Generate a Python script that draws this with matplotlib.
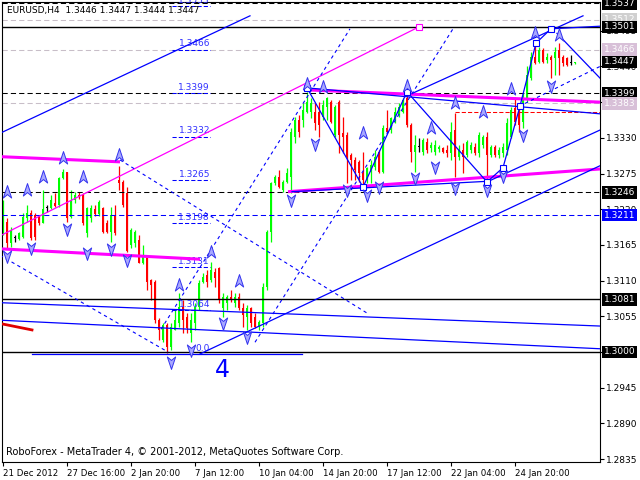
import numpy as np
import matplotlib.pyplot as plt
from matplotlib.path import Path

# EURUSD H4 candles
opens = [1.3193, 1.3200, 1.3168, 1.3176, 1.3174, 1.3177, 1.3206, 1.3214, 1.3211, 1.3210,
         1.3199, 1.3222, 1.3222, 1.3229, 1.3226, 1.3268, 1.3277, 1.3208, 1.3234, 1.3242,
         1.3242, 1.3183, 1.3206, 1.3220, 1.3213, 1.3222, 1.3199, 1.3185, 1.3211, 1.3265,
         1.3262, 1.3245, 1.3165, 1.3168, 1.3173, 1.3137, 1.3146, 1.3111, 1.3108, 1.3049,
         1.3018, 1.3042, 1.3008, 1.3034, 1.3045, 1.3069, 1.3054, 1.3029, 1.3045, 1.3069,
         1.3108, 1.3119, 1.3111, 1.3123, 1.3130, 1.3068, 1.3075, 1.3085, 1.3075, 1.3085,
         1.3068, 1.3054, 1.3068, 1.3054, 1.3038, 1.3045, 1.3100, 1.3185, 1.3260, 1.3270,
         1.3250, 1.3262, 1.3270, 1.3331, 1.3358, 1.3358, 1.3370, 1.3370, 1.3370, 1.3370,
         1.3362, 1.3378, 1.3385, 1.3334, 1.3385, 1.3338, 1.3334, 1.3304, 1.3296, 1.3293,
         1.3276, 1.3265, 1.3277, 1.3285, 1.3308, 1.3277, 1.3345, 1.3342, 1.3358, 1.3365,
         1.3370, 1.3391, 1.3350, 1.3308, 1.3316, 1.3308, 1.3324, 1.3314, 1.3308, 1.3313,
         1.3314, 1.3311, 1.3307, 1.3342, 1.3301, 1.3311, 1.3304, 1.3311, 1.3316, 1.3307,
         1.3319, 1.3331, 1.3304, 1.3316, 1.3304, 1.3307, 1.3311, 1.3331, 1.3376, 1.3370,
         1.3354, 1.3388, 1.3422, 1.3455, 1.3447, 1.3465, 1.3450, 1.3455, 1.3453, 1.3465,
         1.3455, 1.3453, 1.3445, 1.3446]
highs = [1.3234, 1.3206, 1.3193, 1.3180, 1.3185, 1.3214, 1.3226, 1.3219, 1.3214, 1.3211,
         1.3250, 1.3226, 1.3242, 1.3245, 1.3270, 1.3282, 1.3277, 1.3250, 1.3247, 1.3247,
         1.3245, 1.3223, 1.3226, 1.3226, 1.3234, 1.3223, 1.3203, 1.3223, 1.3226, 1.3287,
         1.3265, 1.3254, 1.3191, 1.3188, 1.3180, 1.3165, 1.3148, 1.3113, 1.3111, 1.3052,
         1.3045, 1.3045, 1.3045, 1.3065, 1.3091, 1.3080, 1.3060, 1.3060, 1.3075, 1.3111,
         1.3122, 1.3126, 1.3139, 1.3130, 1.3131, 1.3091, 1.3088, 1.3096, 1.3091, 1.3091,
         1.3075, 1.3072, 1.3069, 1.3060, 1.3049, 1.3106, 1.3188, 1.3262, 1.3273, 1.3281,
         1.3265, 1.3284, 1.3345, 1.3362, 1.3365, 1.3384, 1.3401, 1.3391, 1.3384, 1.3385,
         1.3388, 1.3393, 1.3388, 1.3381, 1.3388, 1.3362, 1.3339, 1.3307, 1.3301, 1.3296,
         1.3308, 1.3285, 1.3296, 1.3311, 1.3311, 1.3350, 1.3373, 1.3362, 1.3378, 1.3384,
         1.3391, 1.3399, 1.3353, 1.3334, 1.3330, 1.3330, 1.3330, 1.3324, 1.3327, 1.3319,
         1.3316, 1.3319, 1.3354, 1.3368, 1.3319, 1.3322, 1.3327, 1.3324, 1.3322, 1.3339,
         1.3334, 1.3339, 1.3319, 1.3319, 1.3316, 1.3322, 1.3361, 1.3378, 1.3393, 1.3376,
         1.3399, 1.3440, 1.3462, 1.3478, 1.3470, 1.3468, 1.3460, 1.3458, 1.3470, 1.3476,
         1.3458, 1.3455, 1.3458, 1.3447]
lows = [1.3180, 1.3160, 1.3162, 1.3170, 1.3173, 1.3176, 1.3200, 1.3173, 1.3173, 1.3196,
        1.3199, 1.3216, 1.3220, 1.3223, 1.3223, 1.3267, 1.3200, 1.3206, 1.3229, 1.3236,
        1.3196, 1.3177, 1.3200, 1.3210, 1.3210, 1.3183, 1.3183, 1.3170, 1.3180, 1.3250,
        1.3223, 1.3154, 1.3160, 1.3162, 1.3137, 1.3135, 1.3096, 1.3080, 1.3045, 1.3018,
        1.3015, 1.2999, 1.3003, 1.3034, 1.3038, 1.3029, 1.3029, 1.3015, 1.3034, 1.3065,
        1.3106, 1.3100, 1.3108, 1.3100, 1.3075, 1.3054, 1.3065, 1.3077, 1.3069, 1.3065,
        1.3038, 1.3034, 1.3038, 1.3037, 1.3034, 1.3038, 1.3096, 1.3170, 1.3257, 1.3253,
        1.3247, 1.3260, 1.3245, 1.3322, 1.3331, 1.3347, 1.3368, 1.3361, 1.3342, 1.3331,
        1.3358, 1.3358, 1.3353, 1.3331, 1.3307, 1.3307, 1.3260, 1.3265, 1.3265, 1.3262,
        1.3257, 1.3260, 1.3260, 1.3281, 1.3276, 1.3276, 1.3338, 1.3338, 1.3353, 1.3362,
        1.3368, 1.3347, 1.3293, 1.3277, 1.3308, 1.3304, 1.3307, 1.3308, 1.3304, 1.3308,
        1.3307, 1.3301, 1.3296, 1.3270, 1.3296, 1.3276, 1.3301, 1.3307, 1.3304, 1.3301,
        1.3314, 1.3265, 1.3301, 1.3301, 1.3299, 1.3301, 1.3304, 1.3330, 1.3350, 1.3339,
        1.3345, 1.3385, 1.3419, 1.3443, 1.3445, 1.3445, 1.3445, 1.3422, 1.3427, 1.3427,
        1.3440, 1.3440, 1.3442, 1.3444]
closes = [1.3226, 1.3168, 1.3188, 1.3176, 1.3183, 1.3208, 1.3214, 1.3176, 1.3177, 1.3199,
          1.3220, 1.3222, 1.3234, 1.3225, 1.3268, 1.3277, 1.3206, 1.3234, 1.3242, 1.3239,
          1.3199, 1.3222, 1.3222, 1.3213, 1.3231, 1.3185, 1.3185, 1.3211, 1.3183, 1.3260,
          1.3226, 1.3155, 1.3188, 1.3185, 1.3137, 1.3146, 1.3108, 1.3103, 1.3049, 1.3034,
          1.3042, 1.3008, 1.3038, 1.3049, 1.3069, 1.3049, 1.3037, 1.3049, 1.3069, 1.3106,
          1.3116, 1.3108, 1.3126, 1.3114, 1.3080, 1.3085, 1.3085, 1.3080, 1.3085, 1.3068,
          1.3057, 1.3068, 1.3045, 1.3038, 1.3046, 1.3100, 1.3185, 1.3260, 1.3270, 1.3254,
          1.3262, 1.3276, 1.3339, 1.3358, 1.3339, 1.3373, 1.3385, 1.3384, 1.3353, 1.3350,
          1.3381, 1.3391, 1.3354, 1.3378, 1.3334, 1.3331, 1.3301, 1.3296, 1.3281, 1.3276,
          1.3265, 1.3284, 1.3288, 1.3301, 1.3277, 1.3345, 1.3339, 1.3361, 1.3370, 1.3378,
          1.3388, 1.3350, 1.3308, 1.3319, 1.3316, 1.3327, 1.3311, 1.3319, 1.3319, 1.3316,
          1.3308, 1.3307, 1.3339, 1.3301, 1.3311, 1.3301, 1.3324, 1.3319, 1.3307, 1.3334,
          1.3331, 1.3304, 1.3316, 1.3304, 1.3311, 1.3316, 1.3353, 1.3373, 1.3354, 1.3350,
          1.3388, 1.3427, 1.3455, 1.3446, 1.3465, 1.3447, 1.3455, 1.3450, 1.3462, 1.3453,
          1.3445, 1.3442, 1.3445, 1.3447]

# fractal arrows: bar index, price
frac_up_bar = [1, 6, 10, 15, 20, 29, 44, 52, 59, 76, 80, 90, 101, 107, 113, 120, 127, 133, 139]
frac_up_price = [1.3247, 1.3250, 1.3270, 1.3299, 1.3270, 1.3304, 1.3103, 1.3154, 1.3109, 1.3413,
                 1.3408, 1.3338, 1.3410, 1.3345, 1.3384, 1.3370, 1.3405, 1.3492, 1.3489]
frac_dn_bar = [1, 7, 16, 21, 27, 31, 42, 47, 55, 61, 72, 78, 86, 91, 94, 103, 108, 113, 121,
               125, 130, 137]
frac_dn_price = [1.3148, 1.3160, 1.3190, 1.3153, 1.3159, 1.3142, 1.2985, 1.3003, 1.3045, 1.3023,
                 1.3234, 1.3321, 1.3250, 1.3242, 1.3254, 1.3268, 1.3285, 1.3253, 1.3250, 1.3271,
                 1.3334, 1.3410]

# horizontal levels
black_dashed = [1.3537, 1.3399, 1.3246]
black_solid = [1.3501, 1.3081, 1.3000]
gray_dashed = [1.3512, 1.3466, 1.3383]
blue_dashed = [1.3211]
red_level = 1.3370
red_level_start = 113

# fibonacci levels
fib_levels = [1.2997, 1.3064, 1.3131, 1.3198, 1.3265, 1.3332, 1.3399, 1.3466, 1.3533]
fib_labels = ['0.0', '1.3064', '1.3131', '1.3198', '1.3265', '1.3332', '1.3399', '1.3466', '1.3533']
fib_from, fib_to = 42.25, 51.75

# trend lines: ((bar, price), (bar, price))
magenta_thick = [((-0.75, 1.3301), (29.25, 1.3293)),
                 ((-0.75, 1.3159), (49.25, 1.3143)),
                 ((75.5, 1.3404), (149.25, 1.3385)),
                 ((71.25, 1.3247), (149.25, 1.3282))]
magenta_thin = [((-0.75, 1.3179), (104, 1.3501))]
red_thick = [((0, 1.3043), (7.25, 1.3034))]
blue_solid = [((-0.75, 1.3337), (61.75, 1.3518)),
              ((49.25, 1.2997), (149.25, 1.3287)),
              ((-0.75, 1.3076), (149.25, 1.3040)),
              ((-0.75, 1.3049), (149.25, 1.3005)),
              ((7.25, 1.2997), (74.75, 1.2997)),
              ((102.5, 1.3399), (145, 1.3518)),
              ((121, 1.3262), (149.25, 1.3342)),
              ((76, 1.3407), (149.25, 1.3367)),
              ((72.25, 1.3247), (121, 1.3263)),
              ((138.5, 1.3491), (149.25, 1.3422)),
              ((137, 1.3498), (149.25, 1.3502))]
blue_dotted = [((-0.75, 1.3149), (41.25, 1.3000)),
               ((29.25, 1.3296), (91, 1.3060)),
               ((130.5, 1.3383), (149.25, 1.3440)),
               ((39.5, 1.3035), (86.75, 1.3498)),
               ((63, 1.3015), (112.5, 1.3498))]
zigzag_bar = [76, 90, 101, 121, 125, 129.25, 133.25, 137]
zigzag_price = [1.3407, 1.3254, 1.3401, 1.3262, 1.3284, 1.3379, 1.3476, 1.3498]

scale_ticks = [1.2835, 1.2890, 1.2945, 1.3000, 1.3055, 1.3110, 1.3165, 1.3220,
               1.3275, 1.3330, 1.3385, 1.3440, 1.3495]
hidden_ticks = [1.3000, 1.3385]
boxed = [(1.3537, 'black'), (1.3512, '#d0d0d0'), (1.3501, 'black'), (1.3466, '#d8c0d8'),
         (1.3447, 'black'), (1.3399, 'black'), (1.3383, '#d8c0d8'), (1.3246, 'black'),
         (1.3211, '#0000ff'), (1.3081, 'black'), (1.3000, 'black')]
time_ticks = [0, 16, 32, 48, 64, 80, 96, 112, 128]
time_labels = ['21 Dec 2012', '27 Dec 16:00', '2 Jan 20:00', '7 Jan 12:00', '10 Jan 04:00',
               '14 Jan 20:00', '17 Jan 12:00', '22 Jan 04:00', '24 Jan 20:00']

fig = plt.figure(figsize=(6.4, 4.8), dpi=100)
ax = fig.add_axes([2 / 640, 18 / 480, 598 / 640, 460 / 480])
ax.set_xlim(-0.25, 149.25)
ax.set_ylim(1.28305, 1.35393)

o = np.array(opens)
h = np.array(highs)
l = np.array(lows)
c = np.array(closes)
x = np.arange(len(o))
cols = np.where(c > o, '#00ff00', np.where(c < o, '#ff0000', '#000000'))
ax.vlines(x, l, h, colors=cols, lw=0.9, zorder=2)
ax.bar(x, np.maximum(np.abs(c - o), 0.00012), 0.72, bottom=np.minimum(o, c),
       color=cols, linewidth=0, zorder=2)

for p in black_dashed:
    ax.axhline(p, color='black', lw=0.75, ls=(0, (5, 3)), zorder=3)
for p in black_solid:
    ax.axhline(p, color='black', lw=1.0, zorder=3)
for p in gray_dashed:
    ax.axhline(p, color='#c8bec8', lw=0.75, ls=(0, (5, 3)), zorder=1)
for p in blue_dashed:
    ax.axhline(p, color='#0000ff', lw=0.75, ls=(0, (5, 3)), zorder=3)
ax.plot([red_level_start, 149.25], [red_level, red_level], color='red', lw=0.75,
        ls=(0, (4, 2)), zorder=3)

for lev, lab in zip(fib_levels, fib_labels):
    start = fib_from if lab != '0.0' else 48.5
    ax.plot([start, fib_to], [lev, lev], color='#0000ff', lw=0.75, ls=(0, (4, 2)), zorder=3)
    ax.text(fib_to, lev + 0.0002, lab, color='#3030ff', fontsize=6.5, ha='right',
            va='bottom', zorder=3)

for (a, b) in magenta_thick:
    ax.plot([a[0], b[0]], [a[1], b[1]], color='#ff00ff', lw=2.2, zorder=3,
            solid_capstyle='butt')
for (a, b) in magenta_thin:
    ax.plot([a[0], b[0]], [a[1], b[1]], color='#ff00ff', lw=0.9, zorder=3)
    ax.plot(b[0], b[1], 's', ms=4, mfc='white', mec='#ff00ff', mew=0.8, zorder=4)
for (a, b) in red_thick:
    ax.plot([a[0], b[0]], [a[1], b[1]], color='#e00000', lw=2.0, zorder=3)
for (a, b) in blue_solid:
    ax.plot([a[0], b[0]], [a[1], b[1]], color='#0000ff', lw=0.9, zorder=3)
for (a, b) in blue_dotted:
    ax.plot([a[0], b[0]], [a[1], b[1]], color='#0000ff', lw=0.8, ls=(0, (3, 3)), zorder=3)
ax.plot(zigzag_bar, zigzag_price, color='#0000ff', lw=0.9, zorder=3)
ax.plot(zigzag_bar, zigzag_price, 's', ms=4, mfc='white', mec='#0000ff', mew=0.8, zorder=4)

up_arrow = Path([(0, 1), (0.6, -0.8), (0, -0.3), (-0.6, -0.8), (0, 1)],
                [Path.MOVETO, Path.LINETO, Path.LINETO, Path.LINETO, Path.CLOSEPOLY])
dn_arrow = Path([(0, -1), (0.6, 0.8), (0, 0.3), (-0.6, 0.8), (0, -1)],
                [Path.MOVETO, Path.LINETO, Path.LINETO, Path.LINETO, Path.CLOSEPOLY])
ax.plot(frac_up_bar, frac_up_price, ls='none', marker=up_arrow, ms=10,
        mfc='#a8a8ff', mec='#3333ee', mew=0.7, zorder=5)
ax.plot(frac_dn_bar, frac_dn_price, ls='none', marker=dn_arrow, ms=10,
        mfc='#a8a8ff', mec='#3333ee', mew=0.7, zorder=5)

ax.text(54.75, 1.2972, '4', color='#0000ff', fontsize=17, ha='center', va='center')
ax.text(0.008, 1 - 4 / 460, 'EURUSD,H4  1.3446 1.3447 1.3444 1.3447', transform=ax.transAxes,
        fontsize=6.5, va='top', ha='left')
ax.text(0.006, 10 / 460, 'RoboForex - MetaTrader 4, \u00a9 2001-2012, MetaQuotes Software Corp.',
        transform=ax.transAxes, fontsize=7, va='center', ha='left')

# price scale
ax.yaxis.tick_right()
ax.set_yticks(scale_ticks)
ax.set_yticklabels(['' if v in hidden_ticks else f'{v:.4f}' for v in scale_ticks], fontsize=6.5)
ax.tick_params(axis='y', direction='out', length=3, width=0.8, pad=1)
for p, face in boxed:
    ax.text(1.006, p, f'{p:.4f}', transform=ax.get_yaxis_transform(), color='white',
            fontsize=6.5, va='center', ha='left', clip_on=False, zorder=10,
            bbox=dict(boxstyle='square,pad=0.2', fc=face, ec='none'))

# time scale
ax.set_xticks(time_ticks)
ax.set_xticklabels(time_labels, fontsize=6.2, ha='left')
ax.tick_params(axis='x', direction='out', length=3, width=0.8, pad=2)
for s in ax.spines.values():
    s.set_linewidth(0.8)

fig.savefig('out.png', dpi=100)
